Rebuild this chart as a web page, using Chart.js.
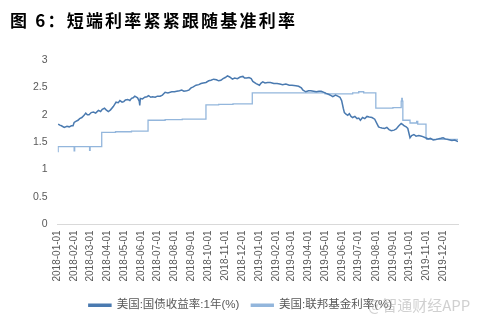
<!DOCTYPE html>
<html>
<head>
<meta charset="utf-8">
<script src="https://cdn.jsdelivr.net/npm/chart.js@4.4.1/dist/chart.umd.min.js"></script>
<style>
  html, body { margin: 0; padding: 0; background: #ffffff; }
  #wrap { position: relative; width: 486px; height: 322px; overflow: hidden; }
  #title { position: absolute; left: 10px; top: 10px; font-family: "Noto Sans CJK SC", sans-serif; font-weight: 700; font-size: 17px; line-height: 19px; letter-spacing: 2.2px; color: #000; white-space: nowrap; }
  #wm { position: absolute; left: 368px; top: 294px; font-family: "Noto Sans CJK SC", sans-serif; font-size: 15px; color: rgba(170,170,170,0.55); white-space: nowrap; pointer-events: none; }
  canvas { position: absolute; left: 0; top: 0; }
</style>
</head>
<body>
<div id="wrap">
  <canvas id="c" width="486" height="322"></canvas>
  <div id="title">图 6：短端利率紧紧跟随基准利率</div>
  <div id="wm">@智通财经APP</div>
</div>
<script>
// ---- data ----
const monthLabels = [
  '2018-01-01','2018-02-01','2018-03-01','2018-04-01','2018-05-01','2018-06-01',
  '2018-07-01','2018-08-01','2018-09-01','2018-10-01','2018-11-01','2018-12-01',
  '2019-01-01','2019-02-01','2019-03-01','2019-04-01','2019-05-01','2019-06-01',
  '2019-07-01','2019-08-01','2019-09-01','2019-10-01','2019-11-01','2019-12-01'
];
const yTickValues = [0, 0.5, 1, 1.5, 2, 2.5, 3];
const axisEndDate = '2019-12-28';

const seriesNames = ['美国:国债收益率:1年(%)', '美国:联邦基金利率(%)'];

const treasuryDates = [
  '2018-01-02','2018-01-05','2018-01-08','2018-01-13','2018-01-18','2018-01-22','2018-01-26','2018-01-29',
  '2018-01-31','2018-02-03','2018-02-07','2018-02-10','2018-02-14','2018-02-18','2018-02-21','2018-02-24',
  '2018-02-27','2018-03-03','2018-03-07','2018-03-11','2018-03-16','2018-03-20','2018-03-23','2018-03-27',
  '2018-03-30','2018-04-03','2018-04-07','2018-04-12','2018-04-17','2018-04-21','2018-04-24','2018-04-28',
  '2018-05-01','2018-05-04','2018-05-08','2018-05-12','2018-05-15','2018-05-18','2018-05-21','2018-05-26',
  '2018-05-29','2018-05-30','2018-05-31','2018-06-04','2018-06-08','2018-06-12','2018-06-15','2018-06-19',
  '2018-06-22','2018-06-27','2018-07-01','2018-07-06','2018-07-10','2018-07-15','2018-07-20','2018-07-27',
  '2018-08-01','2018-08-05','2018-08-10','2018-08-14','2018-08-18','2018-08-23','2018-08-27','2018-08-31',
  '2018-09-04','2018-09-09','2018-09-14','2018-09-18','2018-09-22','2018-09-27','2018-10-02','2018-10-06',
  '2018-10-11','2018-10-16','2018-10-20','2018-10-24','2018-10-28','2018-11-01','2018-11-05','2018-11-09',
  '2018-11-14','2018-11-18','2018-11-23','2018-11-28','2018-12-03','2018-12-06','2018-12-10','2018-12-14',
  '2018-12-18','2018-12-21','2018-12-27','2019-01-02','2019-01-05','2019-01-08','2019-01-12','2019-01-17',
  '2019-01-22','2019-01-28','2019-02-03','2019-02-08','2019-02-13','2019-02-19','2019-02-25','2019-03-02',
  '2019-03-09','2019-03-14','2019-03-19','2019-03-22','2019-03-27','2019-04-01','2019-04-05','2019-04-10',
  '2019-04-15','2019-04-20','2019-04-24','2019-04-29','2019-05-03','2019-05-08','2019-05-12','2019-05-15',
  '2019-05-20','2019-05-24','2019-05-28','2019-05-31','2019-06-03','2019-06-05','2019-06-08','2019-06-11',
  '2019-06-14','2019-06-17','2019-06-20','2019-06-24','2019-06-28','2019-07-01','2019-07-04','2019-07-08',
  '2019-07-12','2019-07-16','2019-07-20','2019-07-25','2019-07-30','2019-08-03','2019-08-06','2019-08-08',
  '2019-08-12','2019-08-17','2019-08-21','2019-08-25','2019-08-29','2019-09-03','2019-09-07','2019-09-11',
  '2019-09-16','2019-09-19','2019-09-21','2019-09-25','2019-09-28','2019-10-02','2019-10-05','2019-10-09',
  '2019-10-13','2019-10-18','2019-10-23','2019-10-30','2019-11-04','2019-11-08','2019-11-13','2019-11-18',
  '2019-11-22','2019-11-27','2019-12-01','2019-12-05','2019-12-10','2019-12-17','2019-12-22','2019-12-28'
];
const treasuryValues = [
  1.83, 1.81, 1.80, 1.77, 1.79, 1.78, 1.80, 1.80,
  1.86, 1.88, 1.90, 1.93, 1.95, 1.99, 2.03, 2.00,
  2.00, 2.04, 2.05, 2.03, 2.08, 2.06, 2.10, 2.12,
  2.09, 2.06, 2.09, 2.15, 2.23, 2.22, 2.26, 2.23,
  2.24, 2.27, 2.28, 2.26, 2.30, 2.31, 2.34, 2.31,
  2.25, 2.17, 2.30, 2.29, 2.32, 2.33, 2.35, 2.32,
  2.33, 2.32, 2.34, 2.34, 2.36, 2.41, 2.40, 2.42,
  2.42, 2.43, 2.44, 2.45, 2.43, 2.44, 2.45, 2.49,
  2.51, 2.54, 2.55, 2.57, 2.58, 2.59, 2.62, 2.63,
  2.65, 2.64, 2.62, 2.63, 2.66, 2.68, 2.71, 2.69,
  2.65, 2.67, 2.66, 2.69, 2.70, 2.67, 2.67, 2.68,
  2.66, 2.61, 2.57, 2.54, 2.58, 2.60, 2.58, 2.59,
  2.59, 2.57, 2.57, 2.56, 2.55, 2.56, 2.54, 2.54,
  2.53, 2.52, 2.49, 2.45, 2.42, 2.44, 2.44, 2.43,
  2.42, 2.43, 2.43, 2.41, 2.39, 2.37, 2.35, 2.33,
  2.36, 2.34, 2.32, 2.26, 2.12, 2.04, 2.01, 1.99,
  2.02, 1.97, 1.95, 1.97, 1.93, 1.94, 1.90, 1.95,
  1.93, 1.97, 1.96, 1.95, 1.92, 1.84, 1.78, 1.77,
  1.76, 1.75, 1.77, 1.73, 1.71, 1.72, 1.74, 1.79,
  1.84, 1.82, 1.80, 1.78, 1.75, 1.58, 1.62, 1.64,
  1.61, 1.62, 1.61, 1.58, 1.56, 1.57, 1.54, 1.55,
  1.56, 1.57, 1.58, 1.56, 1.55, 1.53, 1.54, 1.51
];

const fedDates = [
  '2018-01-01','2018-01-02','2018-01-31','2018-02-01','2018-02-28','2018-03-01','2018-03-22','2018-04-16',
  '2018-05-15','2018-06-14','2018-07-15','2018-08-15','2018-09-27','2018-10-20','2018-11-15','2018-12-20',
  '2019-05-01','2019-06-20','2019-07-01','2019-07-10','2019-08-01','2019-09-01','2019-09-16','2019-09-17',
  '2019-09-18','2019-09-19','2019-10-02','2019-10-14','2019-10-16','2019-10-31','2019-11-01','2019-12-16',
  '2019-12-28'
];
const fedValues = [
  1.33, 1.42, 1.34, 1.42, 1.35, 1.42, 1.68, 1.69,
  1.70, 1.90, 1.91, 1.92, 2.18, 2.19, 2.20, 2.40,
  2.38, 2.40, 2.42, 2.40, 2.12, 2.13, 2.25, 2.30,
  2.25, 1.90, 1.85, 1.88, 1.83, 1.58, 1.55, 1.55,
  1.54
];

// ---- helpers ----
const day0 = Date.parse('2018-01-01');
const toDay = s => (Date.parse(s) - day0) / 86400000;
const monthTickDays = monthLabels.map(toDay);
const pts = (ds, vs) => ds.map((d, i) => ({ x: toDay(d), y: vs[i] }));

const FONT = '"Liberation Sans", "Noto Sans CJK SC", sans-serif';
const darkBlue = '#4a7ab0';
const lightBlue = '#93b6dc';

new Chart(document.getElementById('c'), {
  type: 'line',
  data: {
    datasets: [
      {
        label: seriesNames[0],
        data: pts(treasuryDates, treasuryValues),
        borderColor: darkBlue,
        backgroundColor: darkBlue,
        borderWidth: 1.5,
        pointRadius: 0,
        tension: 0
      },
      {
        label: seriesNames[1],
        data: pts(fedDates, fedValues),
        borderColor: lightBlue,
        backgroundColor: lightBlue,
        borderWidth: 1.3,
        pointRadius: 0,
        stepped: 'before'
      }
    ]
  },
  options: {
    responsive: false,
    animation: false,
    devicePixelRatio: 1,
    layout: { padding: { left: 23, right: 28, top: 60, bottom: 1 } },
    plugins: {
      title: { display: false },
      tooltip: { enabled: false },
      legend: {
        position: 'bottom',
        labels: {
          boxWidth: 22,
          boxHeight: 2,
          padding: 12,
          color: '#595959',
          font: { size: 11.5, family: FONT }
        }
      }
    },
    scales: {
      x: {
        type: 'linear',
        min: 0,
        max: toDay(axisEndDate),
        afterBuildTicks: scale => { scale.ticks = monthTickDays.map(v => ({ value: v })); },
        grid: { display: false, drawTicks: false },
        border: { display: true, color: '#d9d9d9', width: 1 },
        ticks: {
          autoSkip: false,
          minRotation: 90,
          maxRotation: 90,
          padding: 6,
          color: '#595959',
          font: { size: 10, family: FONT },
          callback: (v) => { const i = monthTickDays.indexOf(v); return i >= 0 ? monthLabels[i] : ''; }
        }
      },
      y: {
        min: 0,
        max: 3,
        afterBuildTicks: scale => { scale.ticks = yTickValues.map(v => ({ value: v })); },
        grid: { display: false, drawTicks: false },
        border: { display: false },
        ticks: {
          padding: 10,
          color: '#595959',
          font: { size: 10.5, family: FONT },
          callback: v => String(v)
        }
      }
    }
  }
});
</script>
</body>
</html>
